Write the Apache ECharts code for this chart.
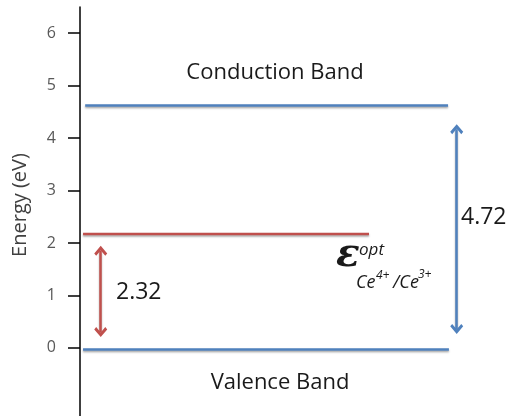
<!DOCTYPE html>
<html><head><meta charset="utf-8">
<script src="https://cdn.jsdelivr.net/npm/echarts@6/dist/echarts.min.js"></script>
<style>html,body{margin:0;padding:0;background:#fff}#c{width:512px;height:416px}</style>
</head><body><div id="c"></div>
<script>
// ---- data ----
const yTicks = [0, 1, 2, 3, 4, 5, 6];
const conductionBand = [[0.12, 4.62], [8.52, 4.62]];
const valenceBand = [[0.07, -0.03], [8.54, -0.03]];
const redoxLevel = [[0.07, 2.17], [6.69, 2.17]];
const redArrow = [[0.48, 1.85], [0.48, 0.30]];
const blueArrow = [[8.72, 4.17], [8.72, 0.36]];
const gapLabels = ['2.32', '4.72'];
const bandLabels = ['Conduction Band', 'Valence Band'];
const axisTitle = 'Energy (eV)';

const BLUE = '#4f81bd', RED = '#c0504d';
const chevron = 'path://M6,0 L12,6 L10.2,7.8 L6,3.6 L1.8,7.8 L0,6 Z';
const shadow = { shadowColor: 'rgba(0,0,0,0.35)', shadowBlur: 2, shadowOffsetY: 1.5 };

function arrow(pts, color) {
  return {
    symbol: [chevron, chevron], symbolSize: [13, 10], silent: true, animation: false,
    label: { show: false }, emphasis: { disabled: true },
    lineStyle: Object.assign({ type: 'solid', color: color, width: 2.5, opacity: 1 }, shadow),
    itemStyle: { color: color },
    data: [[{ coord: pts[0] }, { coord: pts[1] }]]
  };
}
function band(data, color, arr) {
  return {
    type: 'line', data: data, symbol: 'none', silent: true, animation: false,
    lineStyle: Object.assign({ color: color, width: 2.5 }, shadow),
    markLine: arr
  };
}
const FONT = 'Open Sans';
const txt = (t, x, y, size, extra, rot) => ({
  type: 'text', x: x, y: y, silent: true, rotation: rot || 0,
  style: Object.assign({ text: t, fontFamily: FONT, fontSize: size, fill: '#1a1a1a',
    align: 'left', verticalAlign: 'middle' }, extra || {})
});

const chart = echarts.init(document.getElementById('c'));
chart.setOption({
  animation: false,
  grid: { left: 80, right: 0, top: 7, bottom: -4 },
  xAxis: { type: 'value', min: 0, max: 10, show: false },
  yAxis: {
    type: 'value', min: -1.3, max: 6.5,
    axisLine: { show: true, lineStyle: { color: '#000', width: 1.5 } },
    axisTick: { show: true, length: 12, customValues: yTicks, lineStyle: { color: '#000', width: 1.5 } },
    axisLabel: { customValues: yTicks, margin: 24, color: '#595959', fontSize: 16, fontFamily: FONT },
    splitLine: { show: false }
  },
  series: [
    band(conductionBand, BLUE, arrow(blueArrow, BLUE)),
    band(valenceBand, BLUE),
    band(redoxLevel, RED, arrow(redArrow, RED))
  ],
  graphic: [
    txt(axisTitle, 20, 205, 20, { align: 'center', fill: '#404040' }, Math.PI / 2),
    txt(bandLabels[0], 275, 73, 22, { align: 'center' }),
    txt(bandLabels[1], 280, 383, 22, { align: 'center' }),
    txt(gapLabels[0], 116, 292, 23),
    txt(gapLabels[1], 461, 217, 23),
    txt('\u03B5', 336, 256, 39, { fontFamily: 'DejaVu Serif', fontStyle: 'italic', fontWeight: 'bold' }),
    txt('opt', 359, 250, 17, { fontStyle: 'italic' }),
    txt('Ce', 356, 283, 18, { fontStyle: 'italic' }),
    txt('4+', 376, 276, 12, { fontStyle: 'italic' }),
    txt('/Ce', 393, 283, 18, { fontStyle: 'italic' }),
    txt('3+', 418, 275, 12, { fontStyle: 'italic' })
  ]
});
</script></body></html>
